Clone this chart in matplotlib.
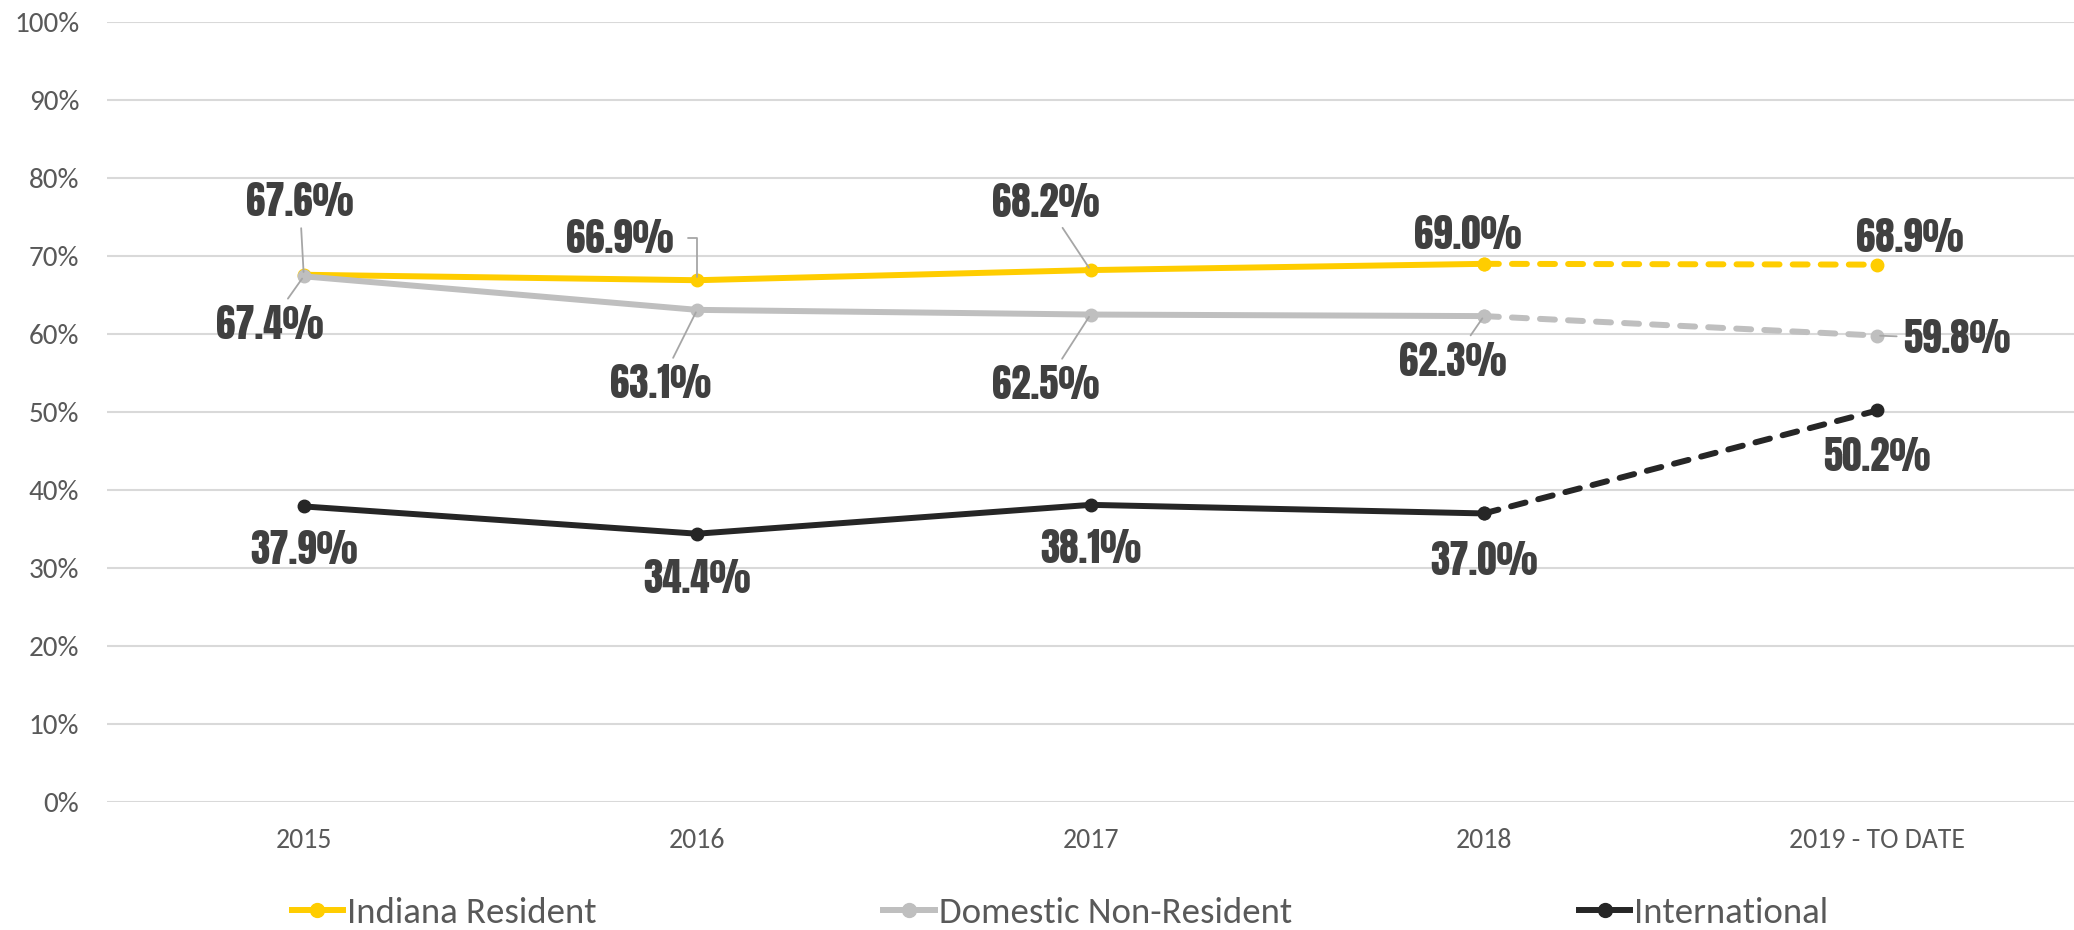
import matplotlib.pyplot as plt
from matplotlib.lines import Line2D

years = ["2015", "2016", "2017", "2018", "2019 - TO DATE"]
indiana = [67.6, 66.9, 68.2, 69.0, 68.9]
domestic = [67.4, 63.1, 62.5, 62.3, 59.8]
international = [37.9, 34.4, 38.1, 37.0, 50.2]

series_names = ["Indiana Resident", "Domestic Non-Resident", "International"]
colors = ["#FFCD00", "#BFBFBF", "#262626"]

# label offsets in pixels (dx, dy) and leader style (None = no leader)
ind_off = [(-4, 73, 'arc3'), (-77, 42, 'angle'), (-45, 68, 'arc3'), (-16, 29, None), (32, 27, None)]
dom_off = [(-34, -48, 'arc3'), (-37, -74, 'arc3'), (-45, -70, 'arc3'), (-31, -45, 'arc3'), (80, -3, 'arc3')]
int_off = [(0, -43, None), (0, -45, None), (0, -44, None), (0, -47, None), (0, -46, None)]

plt.rcParams['font.family'] = ['Carlito', 'Open Sans', 'DejaVu Sans']

fig = plt.figure(figsize=(20.74, 9.30), dpi=100)
ax = fig.add_axes([0.0516, 0.1376, 0.9484, 0.8387])

x = list(range(len(years)))
for vals, col, offs in [(indiana, colors[0], ind_off),
                        (domestic, colors[1], dom_off),
                        (international, colors[2], int_off)]:
    ax.plot(x[:4], vals[:4], color=col, lw=4.3, marker='o', ms=9, solid_capstyle='round', zorder=3)
    ax.plot(x[3:], vals[3:], color=col, lw=4.3, ls=(0, (2.5, 2.2)), marker='o', ms=9,
            dash_capstyle='round', zorder=3)
    for xi, v, (dx, dy, lead) in zip(x, vals, offs):
        props = None
        if lead == 'arc3':
            props = dict(arrowstyle='-', color='#A6A6A6', lw=1.3, shrinkA=3, shrinkB=2)
        elif lead == 'angle':
            props = dict(arrowstyle='-', color='#A6A6A6', lw=1.3, shrinkA=8, shrinkB=2,
                         relpos=(1, 0.5), connectionstyle='angle,angleA=0,angleB=90,rad=0')
        ax.annotate(f"{v:.1f}%", (xi, v), xytext=(dx, dy), textcoords='offset pixels',
                    ha='center', va='center', fontsize=28,
                    family=['Anton', 'DejaVu Sans'], color='#404040',
                    arrowprops=props, zorder=4)

ax.set_xlim(-0.5, 4.5)
ax.set_ylim(0, 100)
ax.set_yticks(range(0, 101, 10))
ax.set_yticklabels([f"{t}%" for t in range(0, 101, 10)])
ax.set_xticks(x)
ax.set_xticklabels(years)
ax.tick_params(axis='y', length=0, pad=20, labelsize=21, labelcolor='#595959')
ax.tick_params(axis='x', length=0, pad=19, labelsize=20, labelcolor='#595959')
ax.grid(axis='y', color='#D9D9D9', lw=1.5)
ax.set_axisbelow(True)
for s in ax.spines.values():
    s.set_visible(False)

handles = [Line2D([], [], color=c, lw=4.3, marker='o', ms=10) for c in colors]
fig.legend(handles, series_names, loc='center', bbox_to_anchor=(0.511, 0.018), ncol=3,
           frameon=False, fontsize=26.5, handlelength=1.4, handletextpad=0.1,
           columnspacing=7.8, labelcolor='#595959')

fig.savefig("out.png", dpi=100)
